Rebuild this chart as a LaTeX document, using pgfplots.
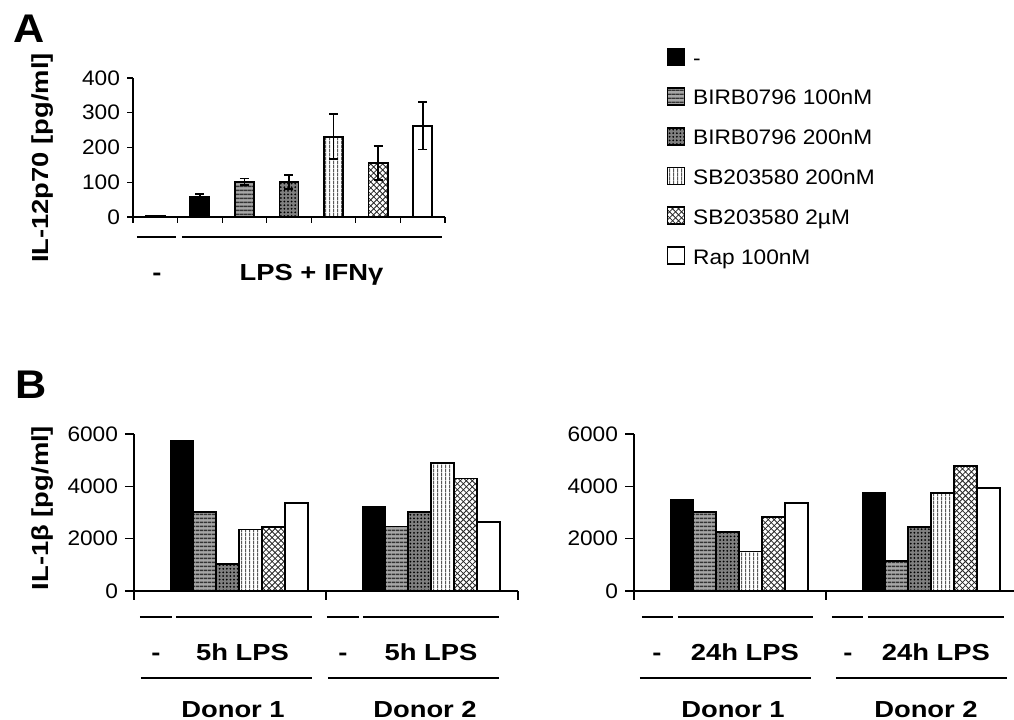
\documentclass[border=0pt]{standalone}
\usepackage{fontspec}
\setmainfont{Liberation Sans}[FakeStretch=1.08]
\newfontfamily\lblfont{Liberation Sans}[FakeStretch=1.18]
\usepackage{pgfplots}
\pgfplotsset{compat=1.18}
\usetikzlibrary{patterns,patterns.meta}

\pgfdeclarepatternformonly{hfine}{\pgfpointorigin}{\pgfqpoint{2bp}{2bp}}{\pgfqpoint{2bp}{2bp}}{%
  \pgfsetlinewidth{0.8bp}%
  \pgfpathmoveto{\pgfqpoint{-0.1bp}{1bp}}\pgfpathlineto{\pgfqpoint{2.1bp}{1bp}}\pgfusepath{stroke}}
\pgfdeclarepatternformonly{vfine}{\pgfpointorigin}{\pgfqpoint{2bp}{2bp}}{\pgfqpoint{2bp}{2bp}}{%
  \pgfsetlinewidth{0.55bp}%
  \pgfpathmoveto{\pgfqpoint{1bp}{-0.1bp}}\pgfpathlineto{\pgfqpoint{1bp}{2.1bp}}\pgfusepath{stroke}}

\newcommand\tickfont{\fontsize{10.5bp}{12bp}\selectfont}
\newcommand\legfont{\fontsize{10.5bp}{12bp}\selectfont}
\newcommand\grpfont{\lblfont\bfseries\fontsize{11.6bp}{13bp}\selectfont}
\newcommand\panelfont{\bfseries\fontsize{20bp}{22bp}\selectfont}
\newcommand\ls{\rule[-2.5bp]{0pt}{11bp}}

\tikzset{
  sBlack/.style={fill=black, draw=black},
  sBa/.style={preaction={fill=black!35}, pattern=hfine, pattern color=black!80, draw=black},
  sBb/.style={preaction={fill=black!50}, pattern={Dots[radius=0.5bp, distance=1.8bp]}, pattern color=black, draw=black},
  sSa/.style={preaction={fill=white}, pattern=vfine, pattern color=black!65, draw=black},
  sSb/.style={preaction={fill=white}, pattern=crosshatch, pattern color=black!85, draw=black},
  sRap/.style={fill=white, draw=black},
}
\pgfplotsset{
  myleg/.style={legend image code/.code={\draw[##1,/tikz/.cd,line width=0.6bp] (0bp,-3.5bp) rectangle (8.5bp,5bp);}},
  commonax/.style={
    scale only axis,
    axis lines=left,
    axis line style={-, line width=0.6bp, black},
    tick align=outside,
    tick style={black, line width=0.6bp},
    xticklabels={},
    tick label style={font=\tickfont},
    /pgf/number format/assume math mode=true,
    /pgf/number format/1000 sep={},
    scaled y ticks=false,
    clip=false,
  },
}

\begin{document}
\begin{tikzpicture}
\useasboundingbox (0,0) rectangle (507bp,360bp);

% ---------------- Panel A ----------------
\begin{axis}[commonax,
  at={(66.5bp,251.5bp)}, anchor=south west,
  width=156bp, height=69.5bp,
  xmin=0, xmax=7, ymin=0, ymax=400,
  xtick={0,1,2,3,4,5,6,7},
  ytick={0,100,200,300,400},
  major tick length=3bp,
  legend style={at={(1.7115,1.2194)}, anchor=north west, draw=none, fill=none,
    inner sep=0pt, outer sep=0pt, row sep=9.6bp, column sep=4bp,
    nodes={inner sep=0pt, outer sep=0pt, font=\legfont}},
  legend cell align=left,
]
\addplot[ybar, bar width=0.43, bar shift=0pt, line width=0.9bp, sBlack, myleg] coordinates {(0.5,2) (1.5,57)};
\addlegendentry{\ls-}
\addplot[ybar, bar width=0.43, bar shift=0pt, line width=0.9bp, sBa, myleg] coordinates {(2.5,101)};
\addlegendentry{\ls BIRB0796 100nM}
\addplot[ybar, bar width=0.43, bar shift=0pt, line width=0.9bp, sBb, myleg] coordinates {(3.5,101)};
\addlegendentry{\ls BIRB0796 200nM}
\addplot[ybar, bar width=0.43, bar shift=0pt, line width=0.9bp, sSa, myleg] coordinates {(4.5,231)};
\addlegendentry{\ls SB203580 200nM}
\addplot[ybar, bar width=0.43, bar shift=0pt, line width=0.9bp, sSb, myleg] coordinates {(5.5,156)};
\addlegendentry{\ls SB203580 2µM}
\addplot[ybar, bar width=0.43, bar shift=0pt, line width=0.9bp, sRap, myleg] coordinates {(6.5,262)};
\addlegendentry{\ls Rap 100nM}
% error bars
\addplot[forget plot, draw=none, no marks,
  error bars/.cd, y dir=both, y explicit,
  error bar style={draw=black, line width=0.9bp, solid},
  error mark options={draw=black, rotate=90, mark size=2.25bp, line width=0.9bp}]
  coordinates {(1.5,57) +- (0,9) (2.5,101) +- (0,10) (3.5,101) +- (0,21)
               (4.5,231) +- (0,65) (5.5,156) +- (0,49) (6.5,262) +- (0,68)};
\end{axis}

% ---------------- Panel B left ----------------
\begin{axis}[commonax,
  at={(67bp,64.5bp)}, anchor=south west,
  width=192bp, height=78.5bp,
  xmin=0, xmax=16.8, ymin=0, ymax=6000,
  xtick={0,8.4,16.8},
  ytick={0,2000,4000,6000},
  major tick length=4.5bp,
]
\addplot[ybar, bar width=1, bar shift=0pt, line width=0.9bp, sBlack] coordinates {(2.1,5745) (10.5,3217)};
\addplot[ybar, bar width=1, bar shift=0pt, line width=0.9bp, sBa] coordinates {(3.1,3013) (11.5,2464)};
\addplot[ybar, bar width=1, bar shift=0pt, line width=0.9bp, sBb] coordinates {(4.1,1047) (12.5,3013)};
\addplot[ybar, bar width=1, bar shift=0pt, line width=0.9bp, sSa] coordinates {(5.1,2349) (13.5,4877)};
\addplot[ybar, bar width=1, bar shift=0pt, line width=0.9bp, sSb] coordinates {(6.1,2451) (14.5,4302)};
\addplot[ybar, bar width=1, bar shift=0pt, line width=0.9bp, sRap] coordinates {(7.1,3370) (15.5,2630)};
\end{axis}

% ---------------- Panel B right ----------------
\begin{axis}[commonax,
  at={(317bp,64.5bp)}, anchor=south west,
  width=192bp, height=78.5bp,
  xmin=0, xmax=16.8, ymin=0, ymax=6000,
  xtick={0,8.4,16.8},
  ytick={0,2000,4000,6000},
  major tick length=4.5bp,
]
\addplot[ybar, bar width=1, bar shift=0pt, line width=0.9bp, sBlack] coordinates {(2.1,3498) (10.5,3766)};
\addplot[ybar, bar width=1, bar shift=0pt, line width=0.9bp, sBa] coordinates {(3.1,3013) (11.5,1149)};
\addplot[ybar, bar width=1, bar shift=0pt, line width=0.9bp, sBb] coordinates {(4.1,2260) (12.5,2451)};
\addplot[ybar, bar width=1, bar shift=0pt, line width=0.9bp, sSa] coordinates {(5.1,1506) (13.5,3740)};
\addplot[ybar, bar width=1, bar shift=0pt, line width=0.9bp, sSb] coordinates {(6.1,2821) (14.5,4775)};
\addplot[ybar, bar width=1, bar shift=0pt, line width=0.9bp, sRap] coordinates {(7.1,3370) (15.5,3932)};
\end{axis}

% ---------------- annotations ----------------
\begin{scope}[x=0.5bp,y=0.5bp]
\node[anchor=base west, inner sep=0pt, font=\panelfont] at (13,678) {A};
\node[anchor=base west, inner sep=0pt, font=\panelfont] at (15,322) {B};

\node[rotate=90, anchor=base, inner sep=0pt, font=\grpfont] at (48,562) {IL-12p70 [pg/ml]};
\node[rotate=90, anchor=base, inner sep=0pt, font=\grpfont] at (48,212) {IL-1β [pg/ml]};

\begin{scope}[line width=1bp]
\draw (137,483) -- (176,483);
\draw (182,483) -- (442,483);
\draw (140,103) -- (172,103); \draw (176,103) -- (312,103);
\draw (327,103) -- (359,103); \draw (363,103) -- (499,103);
\draw (141,42) -- (312,42);   \draw (328,42) -- (499,42);
\draw (642,103) -- (673,103); \draw (678,103) -- (813,103);
\draw (832,103) -- (863,103); \draw (868,103) -- (1004,103);
\draw (640,42) -- (811,42);   \draw (836,42) -- (1007,42);
\end{scope}

\begin{scope}[every node/.style={anchor=base, inner sep=0pt, font=\grpfont}]
\node at (157,440) {-};
\node at (311.5,440) {LPS + IFNγ};
\node at (156,60) {-};
\node at (242.5,60) {5h LPS};
\node at (343,60) {-};
\node at (431,60) {5h LPS};
\node at (233,3) {Donor 1};
\node at (425,3) {Donor 2};
\node at (657,60) {-};
\node at (745,60) {24h LPS};
\node at (848,60) {-};
\node at (936,60) {24h LPS};
\node at (733,3) {Donor 1};
\node at (926,3) {Donor 2};
\end{scope}
\end{scope}
\end{tikzpicture}
\end{document}
